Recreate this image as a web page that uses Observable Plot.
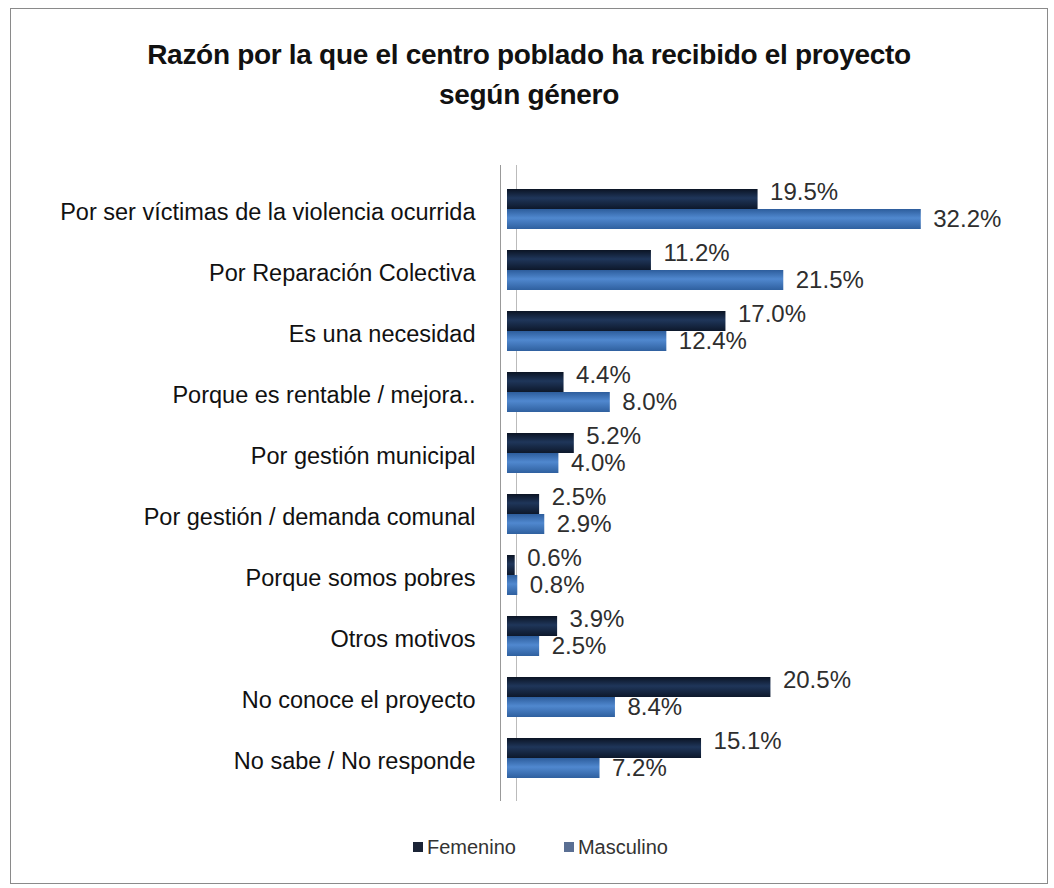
<!DOCTYPE html>
<html>
<head>
<meta charset="utf-8">
<script src="https://cdn.jsdelivr.net/npm/d3@7"></script>
<script src="https://cdn.jsdelivr.net/npm/@observablehq/plot@0.6"></script>
<style>
  html, body { margin: 0; padding: 0; background: #fff; }
  #frame {
    position: absolute; left: 10px; top: 8px; width: 1036px; height: 874px;
    border: 1px solid #8a8a8a; background: #fff; overflow: hidden;
  }
  #title {
    padding-top: 26px; text-align: center; font-family: "Liberation Sans", Arial, sans-serif;
    font-weight: bold; font-size: 28px; line-height: 40px; color: #111; height: 80px;
    letter-spacing: -0.3px;
  }
  #chart { height: 701px; }
  #legend {
    margin-top: 20px; padding-left: 402px; text-align: left; font-family: "Liberation Sans", Arial, sans-serif;
    font-size: 20px; color: #333; white-space: nowrap;
  }
  .sw { display: inline-block; width: 10px; height: 10px; margin-right: 4px; vertical-align: 2px; }
  .item { display: inline-block; margin-right: 48px; }
</style>
</head>
<body>
<div id="frame">
  <div id="title">Razón por la que el centro poblado ha recibido el proyecto<br>según género</div>
  <div id="chart"></div>
  <div id="legend"></div>
</div>
<script>
const categories = [
  "Por ser víctimas de la violencia ocurrida",
  "Por Reparación Colectiva",
  "Es una necesidad",
  "Porque es rentable / mejora..",
  "Por gestión municipal",
  "Por gestión / demanda comunal",
  "Porque somos pobres",
  "Otros motivos",
  "No conoce el proyecto",
  "No sabe / No responde"
];
const series = ["Femenino", "Masculino"];
const femenino = [19.5, 11.2, 17.0, 4.4, 5.2, 2.5, 0.6, 3.9, 20.5, 15.1];
const masculino = [32.2, 21.5, 12.4, 8.0, 4.0, 2.9, 0.8, 2.5, 8.4, 7.2];

const data = [];
categories.forEach((c, i) => {
  data.push({cat: c, gender: series[0], value: femenino[i]});
  data.push({cat: c, gender: series[1], value: masculino[i]});
});
const fem = data.filter(d => d.gender === series[0]);
const masc = data.filter(d => d.gender === series[1]);
const fmt = v => v.toFixed(1) + "%";

const defs = () => {
  const ns = "http://www.w3.org/2000/svg";
  const g = document.createElementNS(ns, "defs");
  g.innerHTML = `
    <linearGradient id="gf" x1="0" y1="0" x2="0" y2="1">
      <stop offset="0" stop-color="#0b1424"/>
      <stop offset="0.45" stop-color="#1f365a"/>
      <stop offset="1" stop-color="#0d182b"/>
    </linearGradient>
    <linearGradient id="gm" x1="0" y1="0" x2="0" y2="1">
      <stop offset="0" stop-color="#2d5d9c"/>
      <stop offset="0.45" stop-color="#5088cf"/>
      <stop offset="1" stop-color="#2f609f"/>
    </linearGradient>`;
  return g;
};

const chart = Plot.plot({
  width: 1036,
  height: 701,
  marginLeft: 496,
  marginRight: 26,
  marginTop: 50,
  marginBottom: 15,
  style: {fontFamily: "Liberation Sans, Arial, sans-serif", background: "transparent"},
  x: {domain: [0, 40], axis: null},
  y: {domain: categories, padding: 0.35, label: null},
  marks: [
    defs,
    Plot.ruleX([0], {stroke: "#999", dx: -7}),
    Plot.ruleX([0], {stroke: "#bbb", dx: 9}),
    Plot.barX(fem, {y: "cat", x: "value", fill: "url(#gf)", insetBottom: 20}),
    Plot.barX(masc, {y: "cat", x: "value", fill: "url(#gm)", insetTop: 20}),
    Plot.text(fem, {y: "cat", x: "value", text: d => fmt(d.value), textAnchor: "start", dx: 12, dy: -17, fontSize: 24, fill: "#2e2e2e"}),
    Plot.text(masc, {y: "cat", x: "value", text: d => fmt(d.value), textAnchor: "start", dx: 12, dy: 10, fontSize: 24, fill: "#2e2e2e"}),
    Plot.axisY({tickSize: 0, tickPadding: 32, fontSize: 23.5, dy: 3, label: null, fill: "#111", style: {letterSpacing: "-0.2px"}})
  ]
});
document.getElementById("chart").appendChild(chart);

const legend = document.getElementById("legend");
series.forEach((s, i) => {
  const span = document.createElement("span");
  span.className = "item";
  span.innerHTML = `<span class="sw" style="background:${i === 0 ? "#1b2436" : "#5a6f93"}"></span>${s}`;
  legend.appendChild(span);
});
</script>
</body>
</html>
